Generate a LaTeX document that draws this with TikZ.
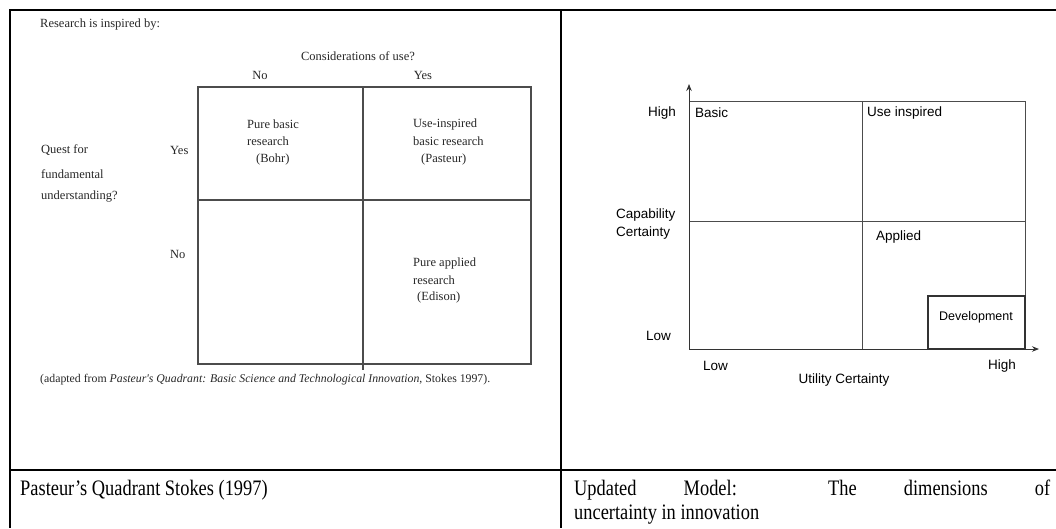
\documentclass[tikz,border=0pt]{standalone}
\usepackage{fontspec}
\newfontfamily\arialf{Liberation Sans}
\newfontfamily\timesf{Liberation Serif}
\usetikzlibrary{arrows.meta}

\begin{document}
\begin{tikzpicture}[x=1pt,y=-1pt,
  frame/.style={line width=2pt, draw=black},
  gridline/.style={line width=1.1pt, draw=black!70},
  boxline/.style={line width=1pt, draw=black!70},
  axis/.style={line width=1pt, draw=black!80, -{Stealth[length=7pt,width=5.5pt]}},
  oldtxt/.style={inner sep=0pt, anchor=west, font=\timesf\fontsize{12.5}{15}\selectfont, text=black!85},
  newtxt/.style={inner sep=0pt, font=\arialf\fontsize{13.5}{16}\selectfont},
  captxt/.style={inner sep=0pt, anchor=base west, font=\timesf\fontsize{18.4}{22}\selectfont},
]
\useasboundingbox (0,0) rectangle (1056,528);

% ---- table frame ----
\coordinate (ftl) at (9,10);
\coordinate (ftr) at (1056,10);
\coordinate (fl) at (10,10);
\coordinate (flb) at (10,528);
\coordinate (fm) at (561,10);
\coordinate (fmb) at (561,528);
\coordinate (rowl) at (10,470);
\coordinate (rowr) at (1056,470);
\draw[frame] (ftl) -- (ftr);
\draw[frame] (fl) -- (flb);
\draw[frame] (fm) -- (fmb);
\draw[frame] (rowl) -- (rowr);

% ---- Pasteur's quadrant ----
\node[oldtxt] (insp) at (40,25) {Research is inspired by:};
\node[oldtxt, anchor=center] (cons) at (358,56) {Considerations of use?};
\node[oldtxt, anchor=center] (cno) at (260,75) {No};
\node[oldtxt, anchor=center] (cyes) at (423,75) {Yes};

\coordinate (gtl) at (198,87);
\coordinate (gbr) at (531,364);
\coordinate (gmt) at (363,87);
\coordinate (gmb) at (363,370);
\coordinate (gml) at (198,200);
\coordinate (gmr) at (531,200);
\draw[gridline] (gtl) rectangle (gbr);
\draw[gridline] (gmt) -- (gmb);
\draw[gridline] (gml) -- (gmr);

\node[oldtxt] (q1) at (41,150) {Quest for};
\node[oldtxt] (q2) at (41,174) {fundamental};
\node[oldtxt] (q3) at (41,197) {understanding?};
\node[oldtxt] (ryes) at (170,150) {Yes};
\node[oldtxt] (rno) at (170,254) {No};

\node[oldtxt] (b1) at (247,124) {Pure basic};
\node[oldtxt] (b2) at (247,141) {research};
\node[oldtxt] (b3) at (256,159) {(Bohr)};

\node[oldtxt] (u1) at (413,124) {Use-inspired};
\node[oldtxt] (u2) at (413,141) {basic research};
\node[oldtxt] (u3) at (421,159) {(Pasteur)};

\node[oldtxt] (a1) at (413,263) {Pure applied};
\node[oldtxt] (a2) at (413,280) {research};
\node[oldtxt] (a3) at (417,297) {(Edison)};

\node[oldtxt, font=\timesf\fontsize{11.8}{14}\selectfont] (src) at (40,380) {(adapted from \textit{Pasteur's Quadrant: Basic Science and Technological Innovation}, Stokes 1997).};

% ---- updated model ----
\coordinate (orig) at (689,349);
\coordinate (ytip) at (689,84);
\coordinate (xtip) at (1039,349);
\coordinate (btl) at (689,101);
\coordinate (btr) at (1025,101);
\coordinate (bbr) at (1025,349);
\coordinate (bmt) at (862,101);
\coordinate (bmb) at (862,349);
\coordinate (bml) at (689,221);
\coordinate (bmr) at (1025,221);
\coordinate (dtl) at (928,296);
\draw[boxline] (btl) -- (btr) -- (bbr);
\draw[boxline] (bmt) -- (bmb);
\draw[boxline] (bml) -- (bmr);
\draw[line width=1.4pt, draw=black!80] (dtl) rectangle (bbr);
\draw[axis] (orig) -- (ytip);
\draw[axis] (orig) -- (xtip);

\node[newtxt, anchor=east] (yhigh) at (676,113) {High};
\node[newtxt, anchor=west] (basic) at (695,113) {Basic};
\node[newtxt, anchor=west] (useins) at (867,113) {Use inspired};
\node[newtxt, anchor=west] (cap1) at (616,215) {Capability};
\node[newtxt, anchor=west] (cap2) at (616,233) {Certainty};
\node[newtxt, anchor=west] (appl) at (876,237) {Applied};
\node[newtxt, anchor=center, font=\arialf\fontsize{12.5}{15}\selectfont] (dev) at (976,317) {Development};
\node[newtxt, anchor=east] (ylow) at (671,336) {Low};
\node[newtxt, anchor=west] (xlow) at (703,366) {Low};
\node[newtxt, anchor=east] (xhigh) at (1016,366) {High};
\node[newtxt, anchor=center] (util) at (844,380) {Utility Certainty};

% ---- captions ----
\node[captxt] (capl) at (20,495) {\scalebox{1}[1.2]{Pasteur’s Quadrant Stokes (1997)}};
\node[captxt] (capr1) at (574,495) {\scalebox{1}[1.2]{\makebox[476pt][s]{Updated Model: The dimensions of}}};
\node[captxt] (capr2) at (574,519) {\scalebox{1}[1.2]{uncertainty in innovation}};
\end{tikzpicture}
\end{document}
